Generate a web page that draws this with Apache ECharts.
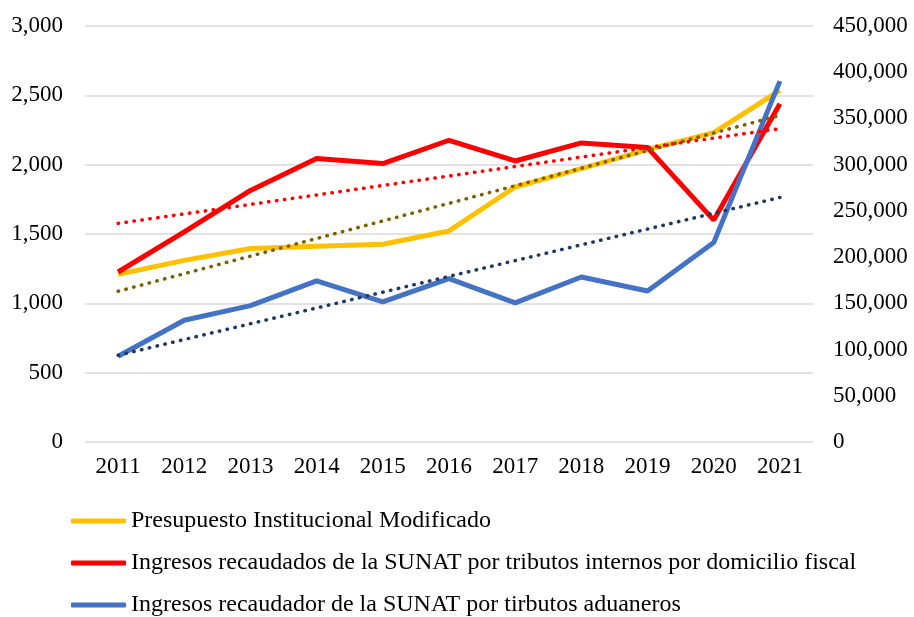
<!DOCTYPE html>
<html>
<head>
<meta charset="utf-8">
<script src="https://cdn.jsdelivr.net/npm/echarts@6/dist/echarts.min.js"></script>
<style>
  html, body { margin: 0; padding: 0; background: #fff; }
  #main { width: 914px; height: 617px; }
</style>
</head>
<body>
<div id="main"></div>
<script>
// datos
var years = ['2011','2012','2013','2014','2015','2016','2017','2018','2019','2020','2021'];

// eje izquierdo
var presupuesto = [1209, 1310, 1395, 1411, 1426, 1522, 1839, 1971, 2108, 2231, 2536];
// eje derecho
var internos = [183900, 227300, 272100, 306600, 301200, 326400, 304000, 323500, 318500, 240000, 366000];
var aduaneros = [92700, 131700, 147500, 174200, 151500, 176700, 150500, 178500, 163400, 215700, 390400];

// lineas de tendencia (inicio 2011, fin 2021)
var tendPresupuesto = [1087, 2355];
var tendInternos = [236500, 339000];
var tendAduaneros = [93800, 264500];

var nombres = [
  'Presupuesto Institucional Modificado',
  'Ingresos recaudados de la SUNAT por tributos internos por domicilio fiscal',
  'Ingresos recaudador de la SUNAT por tirbutos aduaneros'
];

function extremos(par) {
  var arr = [];
  for (var i = 0; i < years.length; i++) arr.push(null);
  arr[0] = par[0];
  arr[years.length - 1] = par[1];
  return arr;
}

var fuente = 'Liberation Serif, Times New Roman, serif';
var myChart = echarts.init(document.getElementById('main'));

var dotted = function (color) {
  return { color: color, width: 3.5, type: [0.5, 7.5], cap: 'round' };
};

var option = {
  animation: false,
  backgroundColor: '#fff',
  textStyle: { fontFamily: fuente },
  grid: { left: 85, right: 101, top: 26, bottom: 175, containLabel: false },
  legend: {
    orient: 'vertical',
    left: 71,
    top: 509,
    height: 120,
    padding: 0,
    itemWidth: 55,
    itemHeight: 5,
    itemGap: 18,
    icon: 'roundRect',
    textStyle: { fontFamily: fuente, fontSize: 24, color: '#000' },
    data: nombres
  },
  xAxis: {
    type: 'category',
    data: years,
    boundaryGap: true,
    axisLine: { show: false },
    axisTick: { show: false },
    axisLabel: { fontFamily: fuente, fontSize: 23, color: '#000', margin: 13 }
  },
  yAxis: [{
    type: 'value',
    min: 0, max: 3000, interval: 500,
    axisLine: { show: false },
    axisTick: { show: false },
    splitLine: { lineStyle: { color: '#D9D9D9', width: 1.5 } },
    axisLabel: {
      fontFamily: fuente, fontSize: 23, color: '#000', margin: 22,
      formatter: function (v) { return v.toLocaleString('en-US'); }
    }
  }, {
    type: 'value',
    min: 0, max: 450000, interval: 50000,
    axisLine: { show: false },
    axisTick: { show: false },
    splitLine: { show: false },
    axisLabel: {
      fontFamily: fuente, fontSize: 23, color: '#000', margin: 20,
      formatter: function (v) { return v.toLocaleString('en-US'); }
    }
  }],
  series: [
    {
      name: nombres[0], type: 'line', yAxisIndex: 0, data: presupuesto,
      showSymbol: false, color: '#FFC000',
      lineStyle: { width: 5, color: '#FFC000' }, z: 2
    },
    {
      name: nombres[1], type: 'line', yAxisIndex: 1, data: internos,
      showSymbol: false, color: '#FF0000',
      lineStyle: { width: 5, color: '#FF0000' }, z: 3
    },
    {
      name: nombres[2], type: 'line', yAxisIndex: 1, data: aduaneros,
      showSymbol: false, color: '#4472C4',
      lineStyle: { width: 5, color: '#4472C4' }, z: 4
    },
    {
      name: 'tend1', type: 'line', yAxisIndex: 0, data: extremos(tendPresupuesto),
      connectNulls: true, showSymbol: false, silent: true,
      lineStyle: dotted('#7F6000'), z: 5
    },
    {
      name: 'tend2', type: 'line', yAxisIndex: 1, data: extremos(tendInternos),
      connectNulls: true, showSymbol: false, silent: true,
      lineStyle: dotted('#FF0000'), z: 5
    },
    {
      name: 'tend3', type: 'line', yAxisIndex: 1, data: extremos(tendAduaneros),
      connectNulls: true, showSymbol: false, silent: true,
      lineStyle: dotted('#203864'), z: 5
    }
  ]
};

myChart.setOption(option);
</script>
</body>
</html>
